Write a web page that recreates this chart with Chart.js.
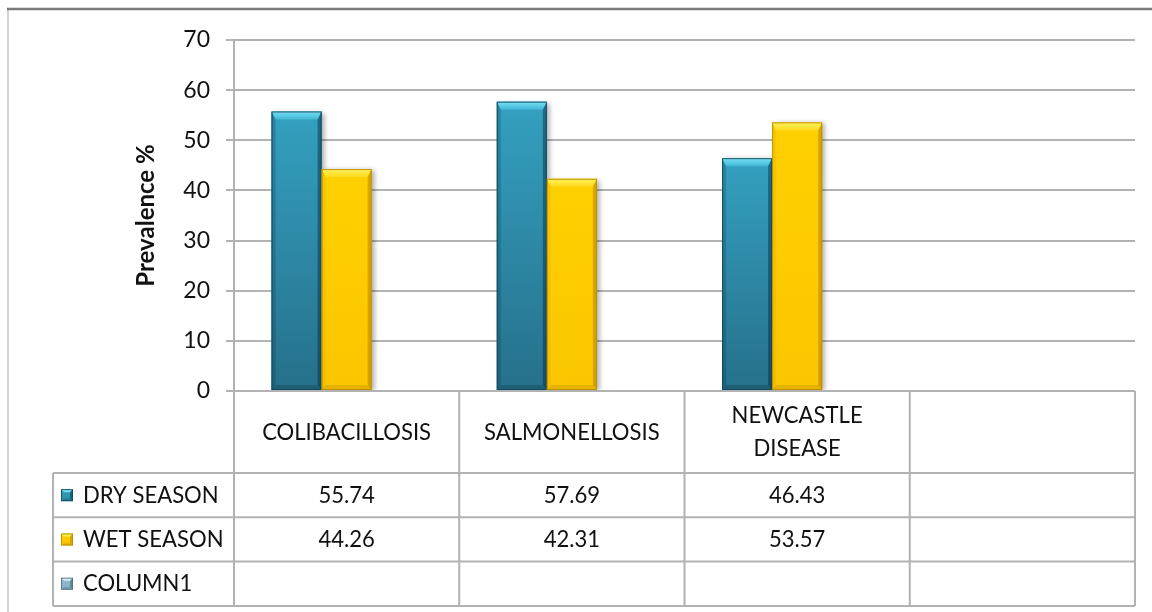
<!DOCTYPE html>
<html>
<head>
<meta charset="utf-8">
<script src="https://cdn.jsdelivr.net/npm/chart.js@4/dist/chart.umd.min.js"></script>
<style>
  html, body { margin: 0; padding: 0; background: #ffffff; }
  #wrap { width: 1152px; height: 612px; position: relative; }
  canvas { display: block; }
</style>
</head>
<body>
<div id="wrap"><canvas id="chart" width="1152" height="612"></canvas></div>
<script>
// Diseases (last column is an empty category kept by the sheet)
const categories = ['COLIBACILLOSIS', 'SALMONELLOSIS', ['NEWCASTLE', 'DISEASE'], ''];
const seriesNames = ['DRY SEASON', 'WET SEASON', 'COLUMN1'];
const drySeason = [55.74, 57.69, 46.43, null];
const wetSeason = [44.26, 42.31, 53.57, null];
const column1 = [null, null, null, null];
const yTicks = [0, 10, 20, 30, 40, 50, 60, 70];

const FONT = 'Lato, "Open Sans", "Noto Sans", sans-serif';
const TEXT = '#111111';
const LINE = '#b2b2b2';

// Shading styles for the bevelled columns
const styles = [
  { base: '#2f95b3', top: '#34a0c0', bottom: '#26708a', bevelA: '#78e0f6', bevelB: '#40b6d6',
    left: 'rgba(0,40,60,0.22)', right: 'rgba(0,30,50,0.42)', foot: 'rgba(0,30,50,0.22)', edge: 'rgba(20,70,90,0.85)' },
  { base: '#ffcb00', top: '#ffd000', bottom: '#fbc600', bevelA: '#fff25a', bevelB: '#ffda1e',
    left: 'rgba(190,130,0,0.12)', right: 'rgba(150,100,0,0.38)', foot: 'rgba(150,100,0,0.2)', edge: 'rgba(185,140,0,0.9)' },
  { base: '#8db6c9', top: '#9cc3d4', bottom: '#7fa6b8', bevelA: '#d6eef8', bevelB: '#b0d4e2',
    left: 'rgba(0,40,60,0.12)', right: 'rgba(0,30,50,0.3)', foot: 'rgba(0,30,50,0.15)', edge: 'rgba(80,110,125,0.8)' }
];

function poly(ctx, pts, fill) {
  ctx.beginPath();
  ctx.moveTo(pts[0][0], pts[0][1]);
  for (let i = 1; i < pts.length; i++) ctx.lineTo(pts[i][0], pts[i][1]);
  ctx.closePath();
  ctx.fillStyle = fill;
  ctx.fill();
}

// Slightly condensed table text (narrow sans look)
function condensedText(ctx, text, x, y, align) {
  const sx = 0.92;
  ctx.save();
  ctx.translate(x, y);
  ctx.scale(sx, 1);
  ctx.textAlign = align;
  ctx.fillText(text, 0, 0);
  ctx.restore();
}

// Drop shadow behind the columns, then bevel shading over each one
const bevelPlugin = {
  id: 'bevel',
  beforeDatasetsDraw(chart) {
    const ctx = chart.ctx;
    ctx.save();
    ctx.shadowColor = 'rgba(0,0,0,0.32)';
    ctx.shadowBlur = 5;
    ctx.shadowOffsetX = 3;
    ctx.shadowOffsetY = 1;
  },
  afterDatasetsDraw(chart) {
    const ctx = chart.ctx;
    ctx.restore();
    chart.data.datasets.forEach((ds, di) => {
      const meta = chart.getDatasetMeta(di);
      const st = styles[di];
      meta.data.forEach((bar, i) => {
        if (ds.data[i] === null || ds.data[i] === undefined) return;
        const p = bar.getProps(['x', 'y', 'base', 'width'], true);
        const x0 = p.x - p.width / 2, x1 = p.x + p.width / 2;
        const yt = Math.min(p.y, p.base), yb = Math.max(p.y, p.base);
        const bt = 8, bs = 4, bf = 5;
        ctx.save();
        const g = ctx.createLinearGradient(0, yt, 0, yb);
        g.addColorStop(0, st.top);
        g.addColorStop(1, st.bottom);
        ctx.fillStyle = g;
        ctx.fillRect(x0, yt, x1 - x0, yb - yt);
        const gt = ctx.createLinearGradient(0, yt, 0, yt + bt);
        gt.addColorStop(0, st.bevelA);
        gt.addColorStop(1, st.bevelB);
        poly(ctx, [[x0, yt], [x1, yt], [x1 - bs, yt + bt], [x0 + bs, yt + bt]], gt);
        poly(ctx, [[x0, yt], [x0 + bs, yt + bt], [x0 + bs, yb - bf], [x0, yb]], st.left);
        poly(ctx, [[x1, yt], [x1 - bs, yt + bt], [x1 - bs, yb - bf], [x1, yb]], st.right);
        poly(ctx, [[x0, yb], [x0 + bs, yb - bf], [x1 - bs, yb - bf], [x1, yb]], st.foot);
        ctx.strokeStyle = st.edge;
        ctx.lineWidth = 1;
        ctx.strokeRect(x0 + 0.5, yt + 0.5, x1 - x0 - 1, yb - yt - 1);
        ctx.restore();
      });
    });
  }
};

// Outer frame of the chart object
const framePlugin = {
  id: 'frame',
  beforeDraw(chart) {
    const ctx = chart.ctx;
    ctx.save();
    ctx.fillStyle = '#ffffff';
    ctx.fillRect(0, 0, chart.width, chart.height);
    ctx.strokeStyle = '#c4c4c4';
    ctx.lineWidth = 1.5;
    ctx.beginPath();
    ctx.moveTo(8, 9); ctx.lineTo(8, chart.height);
    ctx.stroke();
    ctx.strokeStyle = '#7c7c7c';
    ctx.lineWidth = 2.5;
    ctx.beginPath();
    ctx.moveTo(7, 9); ctx.lineTo(chart.width, 9);
    ctx.stroke();
    ctx.restore();
  }
};

// Data table under the plot: category header row + one row per series
const tablePlugin = {
  id: 'dataTable',
  afterDraw(chart) {
    const ctx = chart.ctx;
    const xs = chart.scales.x;
    const area = chart.chartArea;
    const n = categories.length;
    const step = xs.getPixelForValue(1) - xs.getPixelForValue(0);
    const centers = categories.map((c, i) => xs.getPixelForValue(i));
    const bounds = [];
    for (let i = 0; i <= n; i++) bounds.push(xs.getPixelForValue(0) - step / 2 + i * step);
    const top = area.bottom;
    const headBottom = 473;
    const rowH = 44.3;
    // row rules: bottom of header, then bottom of each series row
    const rows = [headBottom, headBottom + rowH, headBottom + 2 * rowH, headBottom + 3 * rowH];
    const tableLeft = 53;
    const tableBottom = rows[3];

    ctx.save();
    ctx.strokeStyle = LINE;
    ctx.lineWidth = 2;
    ctx.beginPath();
    bounds.forEach(bx => { ctx.moveTo(bx, top); ctx.lineTo(bx, tableBottom); });
    ctx.moveTo(tableLeft, headBottom); ctx.lineTo(tableLeft, tableBottom);
    rows.forEach(ry => { ctx.moveTo(tableLeft, ry); ctx.lineTo(bounds[n], ry); });
    ctx.moveTo(bounds[0], top); ctx.lineTo(bounds[n], top);
    ctx.stroke();

    ctx.fillStyle = TEXT;
    ctx.font = '24px ' + FONT;
    ctx.textBaseline = 'middle';
    const headMid = (top + headBottom) / 2;
    categories.forEach((c, i) => {
      const lines = Array.isArray(c) ? c : [c];
      const lh = 33;
      lines.forEach((t, k) => {
        condensedText(ctx, t, centers[i], headMid + (k - (lines.length - 1) / 2) * lh, 'center');
      });
    });

    const seriesData = [drySeason, wetSeason, column1];
    seriesData.forEach((vals, r) => {
      const mid = (rows[r] + rows[r + 1]) / 2;
      // legend key
      const st = styles[r];
      const kx = 61, ky = mid - 6, ks = 12;
      ctx.fillStyle = st.base;
      ctx.fillRect(kx, ky, ks, ks);
      poly(ctx, [[kx, ky], [kx + ks, ky], [kx + ks - 3, ky + 3], [kx + 3, ky + 3]], st.bevelA);
      poly(ctx, [[kx + ks, ky], [kx + ks - 3, ky + 3], [kx + ks - 3, ky + ks - 3], [kx + ks, ky + ks]], st.right);
      poly(ctx, [[kx, ky + ks], [kx + 3, ky + ks - 3], [kx + ks - 3, ky + ks - 3], [kx + ks, ky + ks]], st.foot);
      ctx.strokeStyle = st.edge;
      ctx.lineWidth = 1;
      ctx.strokeRect(kx + 0.5, ky + 0.5, ks - 1, ks - 1);
      // series name
      ctx.fillStyle = TEXT;
      condensedText(ctx, seriesNames[r], 83, mid, 'left');
      // values
      vals.forEach((v, i) => {
        if (v === null || v === undefined) return;
        condensedText(ctx, v.toFixed(2), centers[i], mid, 'center');
      });
    });
    ctx.restore();
  }
};

const chart = new Chart(document.getElementById('chart'), {
  type: 'bar',
  data: {
    labels: categories,
    datasets: [
      { label: seriesNames[0], data: drySeason, backgroundColor: styles[0].base },
      { label: seriesNames[1], data: wetSeason, backgroundColor: styles[1].base },
      { label: seriesNames[2], data: column1, backgroundColor: styles[2].base }
    ]
  },
  options: {
    responsive: false,
    animation: false,
    devicePixelRatio: 1,
    datasets: { bar: { categoryPercentage: 3 / 4.5, barPercentage: 1, borderWidth: 0 } },
    layout: { padding: { left: 132, right: 17, top: 40, bottom: 0 } },
    plugins: { legend: { display: false }, tooltip: { enabled: false }, title: { display: false } },
    scales: {
      x: {
        ticks: { display: false },
        grid: { display: false },
        border: { display: false },
        afterFit(s) { s.height = 221; }
      },
      y: {
        min: 0,
        max: 70,
        afterBuildTicks(s) { s.ticks = yTicks.map(v => ({ value: v })); },
        ticks: { font: { family: FONT, size: 23 }, color: TEXT, padding: 16 },
        grid: { color: LINE, lineWidth: 2, tickLength: 8, drawTicks: true, tickColor: LINE },
        border: { display: true, color: LINE, width: 2 },
        title: { display: true, text: 'Prevalence %', color: TEXT, padding: 0,
                 font: { family: FONT, size: 24, weight: 'bold' } },
        afterFit(s) { s.width = 102; }
      }
    }
  },
  plugins: [framePlugin, bevelPlugin, tablePlugin]
});
</script>
</body>
</html>
